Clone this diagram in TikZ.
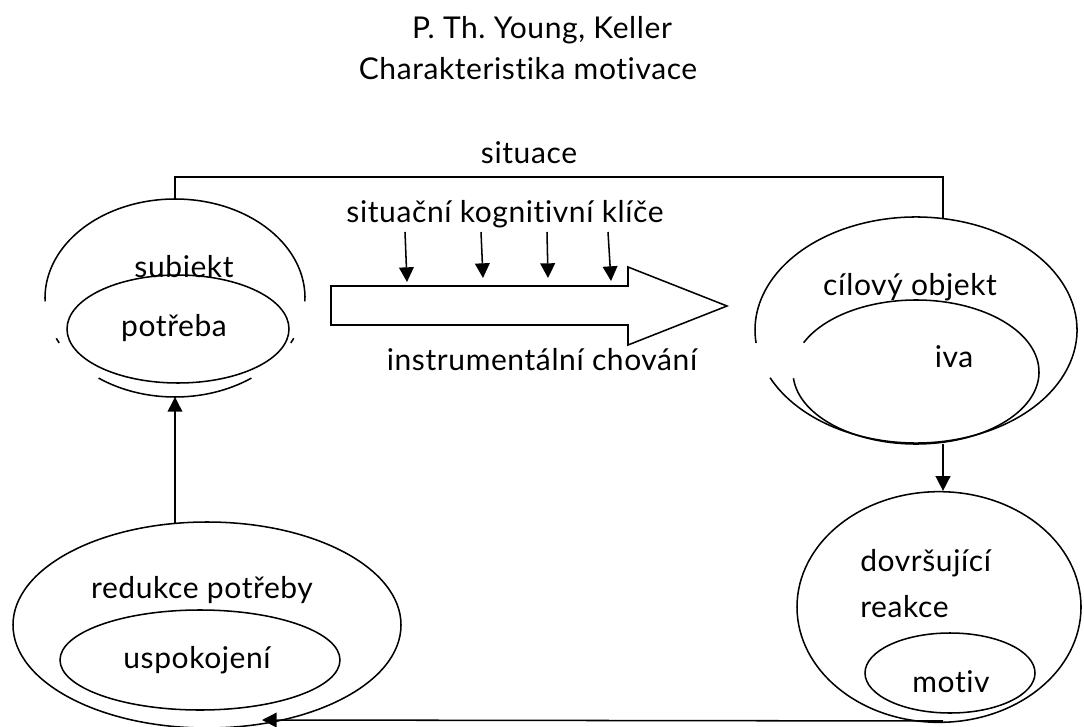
\documentclass[tikz,border=0pt]{standalone}
\usepackage{fontspec}
\setmainfont{Lato}[LetterSpace=2,Ligatures={NoCommon}]
\frenchspacing
\usetikzlibrary{shapes.geometric,arrows.meta}
\begin{document}
\begin{tikzpicture}[x=0.75pt,y=-0.75pt,
  line/.style={line width=1.15pt},
  ell/.style={ellipse,draw,line width=1.15pt,inner sep=0pt},
  txt/.style={font=\fontsize{22.5pt}{26pt}\selectfont,inner sep=0pt},
  tip/.style={-{Triangle[width=11pt,length=11pt]}}]
\useasboundingbox (0,0) rectangle (1084,727);
% titles
\node[txt] (t1) at (542,30) {P. Th. Young, Keller};
\node[txt] (t2) at (528,69) {Charakteristika motivace};
\node[txt] (sit) at (529,153) {situace};
% subjekt (partially hidden outer ellipse)
\coordinate (sc) at (175,298);
\draw[line] (sc) ++(-2:97.5pt and 74.25pt) arc[start angle=-2,end angle=182,x radius=97.5pt,y radius=74.25pt];
\draw[line] (sc) ++(-24:97.5pt and 74.25pt) arc[start angle=-24,end angle=-27,x radius=97.5pt,y radius=74.25pt];
\draw[line] (sc) ++(204:97.5pt and 74.25pt) arc[start angle=204,end angle=207,x radius=97.5pt,y radius=74.25pt];
\draw[line] (sc) ++(234:97.5pt and 74.25pt) arc[start angle=234,end angle=306,x radius=97.5pt,y radius=74.25pt];
\coordinate (stop) at (175,200);
\coordinate (sbot) at (175,397);
\node[ell,minimum width=166.5pt,minimum height=81pt] (pot) at (178,329) {};
\node[txt] (subj) at (184,267) {subiekt};
\node[txt] (potT) at (174,328) {potřeba};
% cilovy objekt
\coordinate (cc) at (916,330);
\draw[line] (cc) ++(205:120.75pt and 84.75pt) arc[start angle=205,end angle=546.6,x radius=120.75pt,y radius=84.75pt];
\coordinate (ic) at (916,372);
\draw[line] (ic) ++(185:92.25pt and 54pt) arc[start angle=185,end angle=516,x radius=92.25pt,y radius=54pt];
\coordinate (ctop) at (943,219);
\coordinate (cbot) at (943,444);
\node[txt] (cil) at (910,287) {cílový objekt};
\node[txt] (iva) at (954,357) {iva};
% situace bracket
\draw[line] (stop) -- (175,177) -- (943,177) -- (ctop);
% big arrow
\draw[line] (331,286) -- (628,286) -- (628,267) -- (727,306) -- (628,345) -- (628,325) -- (331,325) -- cycle;
\node[txt] (klic) at (505,214) {situační kognitivní klíče};
\node[txt] (instr) at (542,360) {instrumentální chování};
\coordinate (a1) at (405,232); \coordinate (b1) at (407,282);
\coordinate (a2) at (481,232); \coordinate (b2) at (483,278);
\coordinate (a3) at (547,232); \coordinate (b3) at (548,278);
\coordinate (a4) at (608,232); \coordinate (b4) at (611,281);
\foreach \i in {1,2,3,4} \draw[line,tip] (a\i) -- (b\i);
% dovrsujici reakce
\node[ell,minimum width=213pt,minimum height=173pt] (dov) at (939,607) {};
\node[ell,minimum width=127.5pt,minimum height=60pt] (mot) at (950,673) {};
\node[txt,anchor=west] (dovT) at (860,563) {dovršující};
\node[txt,anchor=west] (reak) at (860,607) {reakce};
\node[txt] (motT) at (951,682) {motiv};
\draw[line,tip] (cbot) -- (dov.north -| cbot);
% reduction
\node[ell,minimum width=291pt,minimum height=154.5pt] (red) at (207,625) {};
\node[ell,minimum width=210pt,minimum height=75pt] (usp) at (200,660) {};
\node[txt] (redT) at (202,590) {redukce potřeby};
\node[txt] (uspT) at (197,660) {uspokojení};
\coordinate (rtop) at (175,523);
\draw[line,tip] (rtop) -- (sbot);
\coordinate (dbot) at (943,721);
\coordinate (rend) at (262,720);
\draw[line,tip] (dbot) -- (rend);
\end{tikzpicture}
\end{document}
